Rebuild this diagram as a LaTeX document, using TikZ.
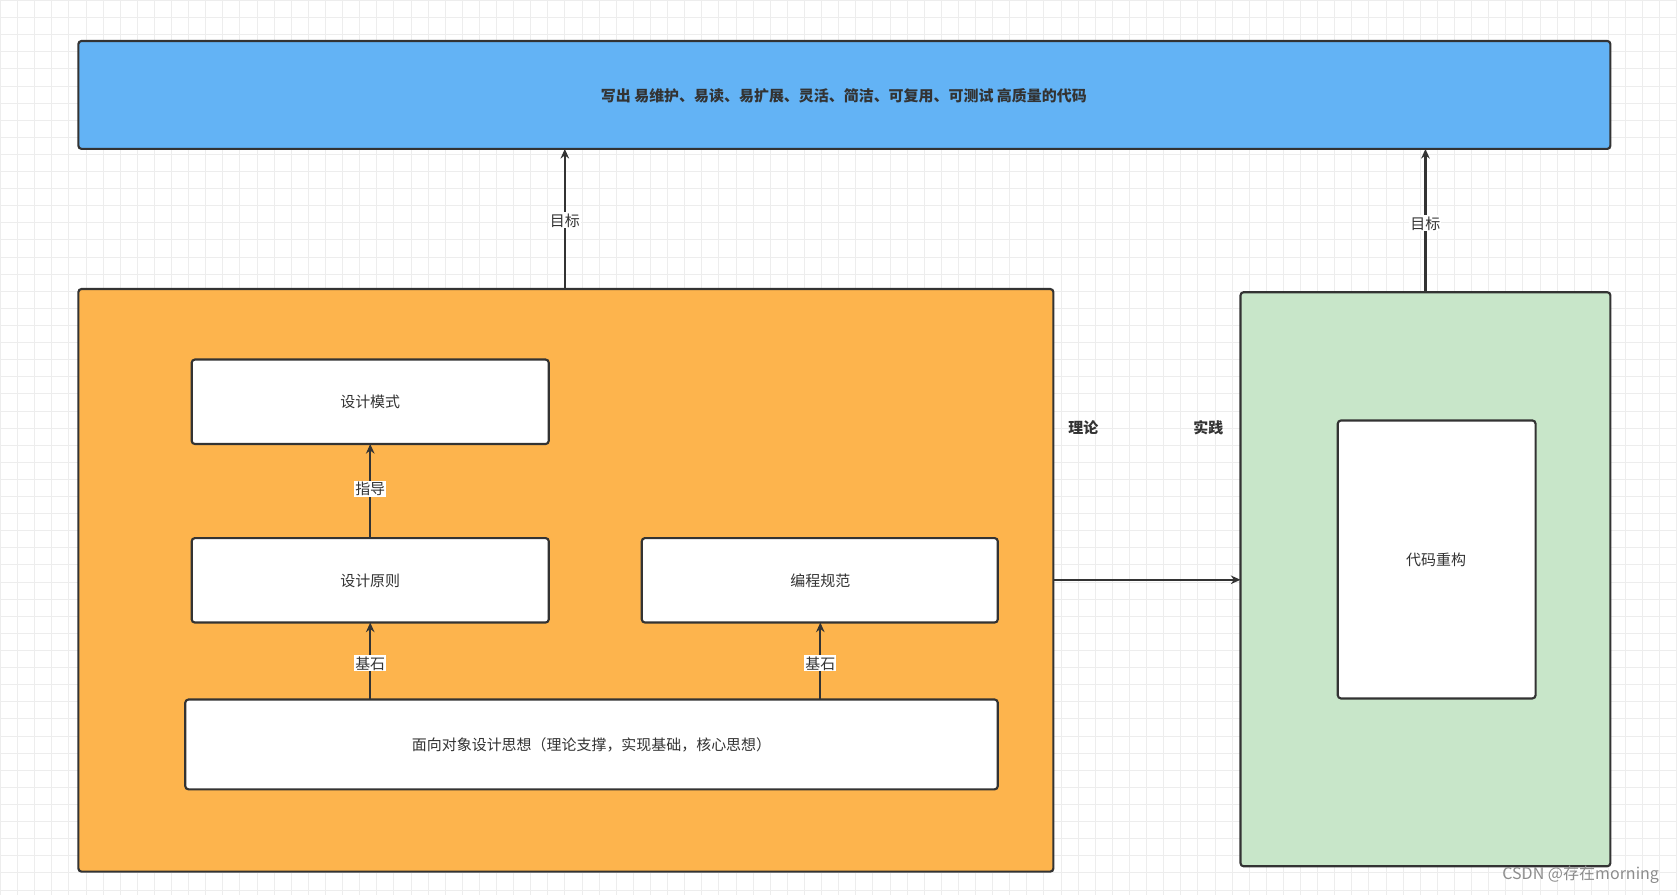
\documentclass[tikz,border=0pt]{standalone}
\usepackage{fontspec}
\setmainfont{Noto Sans CJK SC}
\usetikzlibrary{arrows.meta}
\definecolor{ln}{HTML}{333333}
\definecolor{blu}{HTML}{63B3F5}
\definecolor{org}{HTML}{FDB44D}
\definecolor{grn}{HTML}{C8E6C9}
\begin{document}
\begin{tikzpicture}[x=1pt,y=-1pt,
  box/.style={draw=ln,line width=2pt,rounded corners=3pt},
  wbox/.style={box,fill=white},
  txt/.style={font=\fontsize{14}{16}\selectfont,text=ln},
  arr/.style={draw=ln,line width=2pt,-{Stealth[length=9pt,width=8pt]}},
  lab/.style={txt,fill=white,inner sep=1pt}]
\fill[white] (0,0) rectangle (1568,837);
\foreach \i in {0,16,...,1568} \draw[black!7,line width=0.6pt] (\i,0)--(\i,837);
\foreach \j in {0,16,...,837} \draw[black!7,line width=0.6pt] (0,\j)--(1568,\j);
\useasboundingbox (0,0) rectangle (1568,837);
\draw[box,fill=blu] (73,38) rectangle (1506,139);
\node[txt,font=\fontsize{14}{16}\selectfont\bfseries] (goal) at (789,89) {写出 易维护、易读、易扩展、灵活、简洁、可复用、可测试 高质量的代码};
\coordinate (gL) at (528,139); \coordinate (gR) at (1333,139);
\draw[box,fill=org] (73,270) rectangle (985,815);
\coordinate (oT) at (528,270); \coordinate (oR) at (985,542);
\draw[box,fill=grn] (1160,273) rectangle (1506,810);
\coordinate (gT) at (1333,273); \coordinate (gLft) at (1160,542);
\draw[wbox] (179,336) rectangle (513,415); \node[txt] (ms) at (346,376) {设计模式};
\draw[wbox] (179,503) rectangle (513,582); \node[txt] (yz) at (346,543) {设计原则};
\draw[wbox] (600,503) rectangle (933,582); \node[txt] (gf) at (767,543) {编程规范};
\draw[wbox] (173,654) rectangle (933,738); \node[txt] (oo) at (553,696) {面向对象设计思想（理论支撑，实现基础，核心思想）};
\draw[wbox] (1251,393) rectangle (1436,653); \node[txt] (cg) at (1343,523) {代码重构};
\coordinate (msB) at (346,415); \coordinate (yzT) at (346,503); \coordinate (yzB) at (346,582);
\coordinate (ooT1) at (346,654); \coordinate (gfB) at (767,582); \coordinate (ooT2) at (767,654);
\draw[arr] (yzT) -- (msB) node[lab,pos=0.52] {指导};
\draw[arr] (ooT1) -- (yzB) node[lab,pos=0.47] {基石};
\draw[arr] (ooT2) -- (gfB) node[lab,pos=0.47] {基石};
\draw[arr] (oT) -- (gL) node[lab,pos=0.49] {目标};
\draw[arr] (gT) -- (gR) node[lab,pos=0.48] {目标};
\draw[arr] (oR) -- (gLft);
\node[txt,font=\fontsize{14}{16}\selectfont\bfseries] (ll) at (1013,400) {理论};
\node[txt,font=\fontsize{14}{16}\selectfont\bfseries] (sj) at (1130,400) {实践};
\node[font=\fontsize{15}{17}\selectfont,text=black!45,anchor=east] (wm) at (1555,818) {CSDN @存在morning};
\end{tikzpicture}
\end{document}
